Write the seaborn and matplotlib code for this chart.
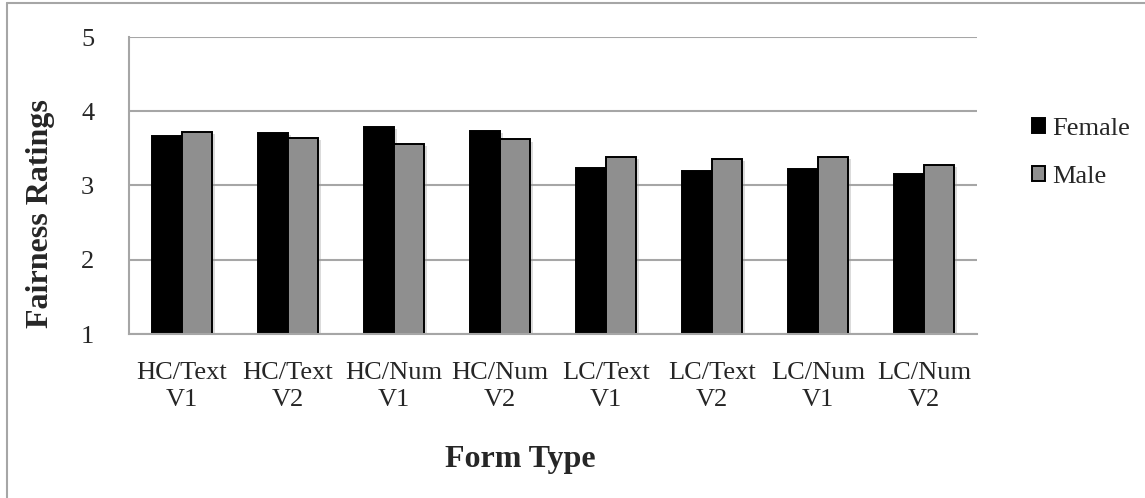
import matplotlib
matplotlib.use("Agg")
import matplotlib.pyplot as plt
import matplotlib.patches as mpatches
import matplotlib.patheffects as pe
from matplotlib.lines import Line2D
import numpy as np
import pandas as pd
import seaborn as sns

# Form types and mean fairness ratings by gender
form_types = ["HC/Text\nV1", "HC/Text\nV2", "HC/Num\nV1", "HC/Num\nV2",
              "LC/Text\nV1", "LC/Text\nV2", "LC/Num\nV1", "LC/Num\nV2"]
female = [3.66, 3.71, 3.79, 3.74, 3.24, 3.20, 3.22, 3.16]
male = [3.72, 3.64, 3.56, 3.62, 3.38, 3.36, 3.38, 3.28]
genders = ["Female", "Male"]
y_ticks = [1, 2, 3, 4, 5]

df = pd.DataFrame({
    "Form Type": form_types * 2,
    "Rating": female + male,
    "Gender": ["Female"] * len(form_types) + ["Male"] * len(form_types),
})

sns.set_style("white")
plt.rcParams["font.family"] = ["Liberation Serif", "DejaVu Serif"]

grid_gray = "#a6a6a6"
palette = {"Female": "#000000", "Male": "#8f8f8f"}

fig = plt.figure(figsize=(11.45, 4.98), dpi=100)
ax = fig.add_axes([129 / 1145, 1 - 334 / 498, (977 - 129) / 1145, (334 - 37) / 498])

sns.barplot(data=df, x="Form Type", y="Rating", hue="Gender", order=form_types,
            hue_order=genders, palette=palette, width=0.575, gap=0,
            edgecolor="black", linewidth=1.4, saturation=1, legend=False, ax=ax)

# soft drop shadow behind each bar
for bar in ax.patches:
    bar.set_path_effects([pe.SimplePatchShadow(offset=(2, -1.5), shadow_rgbFace="#999999",
                                               alpha=0.35), pe.Normal()])

# y axis: 1..5 with horizontal gridlines
ax.set_ylim(1, 5)
ax.set_yticks(y_ticks)
ax.set_yticklabels([str(v) for v in y_ticks])
ax.yaxis.grid(True, color=grid_gray, linewidth=1.5)
ax.set_axisbelow(True)

# x axis: labels at category centres, tick marks at category boundaries
n = len(form_types)
ax.set_xlim(-0.5, n - 0.5)
ax.set_xticks(np.arange(n))
ax.set_xticklabels(form_types, fontsize=19, linespacing=1.3)
ax.set_xticks(np.arange(n + 1) - 0.5, minor=True)
ax.tick_params(axis="x", which="major", length=0, pad=20)
ax.tick_params(axis="x", which="minor", length=7, width=1.5, color=grid_gray, direction="out")
ax.tick_params(axis="y", length=7, width=1.5, color=grid_gray, direction="out",
               labelsize=19, pad=18)

for side in ["top", "right"]:
    ax.spines[side].set_visible(False)
for side in ["left", "bottom"]:
    ax.spines[side].set_color(grid_gray)
    ax.spines[side].set_linewidth(1.5)

ax.set_xlabel("Form Type", fontsize=23, fontweight="bold")
ax.set_ylabel("Fairness Ratings", fontsize=23, fontweight="bold")
ax.xaxis.set_label_coords(0.462, -0.424)
ax.yaxis.set_label_coords(-0.104, 0.404)
ax.xaxis.label.set_va("center")
ax.yaxis.label.set_va("center")

# legend with small square swatches
handles = [mpatches.Patch(facecolor=palette[g], edgecolor="black", linewidth=1.4, label=g)
           for g in genders]
fig.legend(handles=handles, loc="center left", bbox_to_anchor=(1019 / 1145, 1 - 153 / 498),
           frameon=False, fontsize=19, handlelength=0.5, handleheight=0.5,
           handletextpad=0.25, borderpad=0, labelspacing=1.0)

# outer chart frame (left and top edges)
fig.add_artist(Line2D([7 / 1145, 7 / 1145], [0, 1 - 3 / 498], transform=fig.transFigure,
                      color=grid_gray, linewidth=1.5))
fig.add_artist(Line2D([7 / 1145, 1], [1 - 3 / 498, 1 - 3 / 498], transform=fig.transFigure,
                      color=grid_gray, linewidth=1.5))

fig.savefig("out.png", dpi=100)
